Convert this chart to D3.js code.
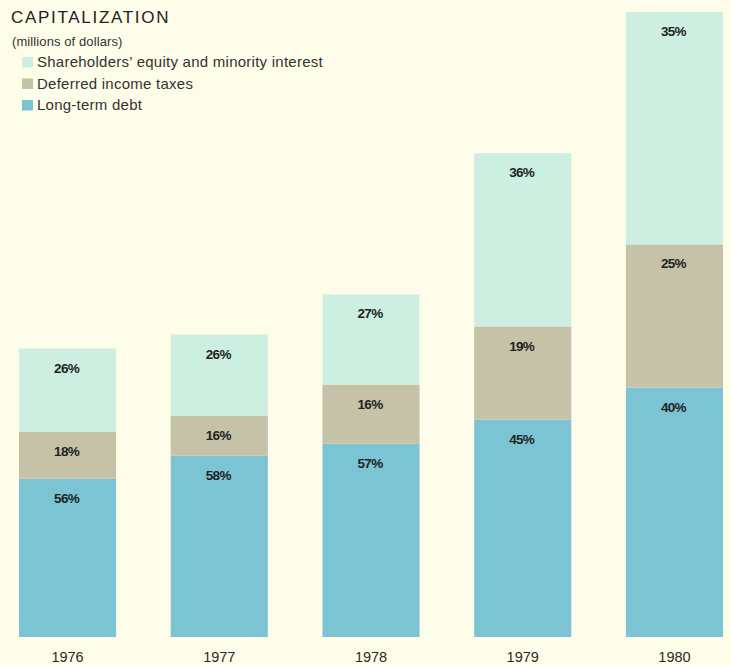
<!DOCTYPE html>
<html><head><meta charset="utf-8">
<script src="https://cdn.jsdelivr.net/npm/d3@7"></script>
<style>
html,body{margin:0;padding:0;background:#fefde9;}
svg{display:block;}
text{font-family:"Liberation Sans",Arial,sans-serif;}
</style></head>
<body>
<svg id="chart" width="731" height="665"></svg>
<script>
const years = ["1976","1977","1978","1979","1980"];
const seriesKeys = ["debt","deferred","equity"];
const seriesNames = ["Long-term debt","Deferred income taxes","Shareholders\u2019 equity and minority interest"];
// millions of dollars
const debt     = [790, 905, 965, 1085, 1245];
const deferred = [235, 200, 295, 465, 715];
const equity   = [415, 405, 450, 865, 1160];
// printed percentage labels
const debtPct     = ["56%","58%","57%","45%","40%"];
const deferredPct = ["18%","16%","16%","19%","25%"];
const equityPct   = ["26%","26%","27%","36%","35%"];

const colors = {debt:"#7cc4d4", deferred:"#c5c2a8", equity:"#ccefe1"};
const pctMap = {debt:debtPct, deferred:deferredPct, equity:equityPct};

const rows = years.map((y,i)=>({year:y, debt:debt[i], deferred:deferred[i], equity:equity[i]}));
const stack = d3.stack().keys(seriesKeys)(rows);

const svg = d3.select("#chart");
const x = d3.scaleBand().domain(years).range([19,723]).paddingInner(0.36).paddingOuter(0);
const y = d3.scaleLinear().domain([0,3120]).range([637,12]);

stack.forEach(layer=>{
  const key = layer.key;
  const g = svg.append("g");
  g.selectAll("rect").data(layer).join("rect")
    .attr("x", d=>x(d.data.year))
    .attr("width", x.bandwidth())
    .attr("y", d=>y(d[1]))
    .attr("height", d=>y(d[0])-y(d[1]))
    .attr("fill", colors[key]);
  g.selectAll("text").data(layer).join("text")
    .attr("x", d=>x(d.data.year)+x.bandwidth()/2-1)
    .attr("y", d=>y(d[1])+24)
    .attr("text-anchor","middle")
    .attr("font-size",13.5)
    .attr("font-weight","bold")
    .attr("letter-spacing","-0.7")
    .attr("fill","#1e2422")
    .text((d,i)=>pctMap[key][i]);
});

// year axis labels
const xAxis = d3.axisBottom(x).tickSize(0).tickPadding(0);
const ax = svg.append("g").attr("transform","translate(0,662)").call(xAxis);
ax.select(".domain").remove();
ax.selectAll("text").attr("font-size",14.5).attr("fill","#2a2a2a")
  .attr("font-family","\"Liberation Sans\",Arial,sans-serif").attr("dy","0");

// title
svg.append("text").attr("x",11).attr("y",23).attr("font-size",17).attr("letter-spacing","1.7")
  .attr("fill","#222").text("CAPITALIZATION");
svg.append("text").attr("x",12).attr("y",46).attr("font-size",13).attr("letter-spacing","0.1")
  .attr("fill","#333").text("(millions of dollars)");

// legend
const legendOrder = ["equity","deferred","debt"];
const leg = svg.append("g");
legendOrder.forEach((k,i)=>{
  const top = 57 + i*21.5;
  leg.append("rect").attr("x",22).attr("y",top).attr("width",11).attr("height",10.5).attr("fill",colors[k]);
  leg.append("text").attr("x",37).attr("y",top+10).attr("font-size",15).attr("letter-spacing","0.25").attr("fill","#333")
    .text(seriesNames[seriesKeys.indexOf(k)]);
});
</script>
</body></html>
